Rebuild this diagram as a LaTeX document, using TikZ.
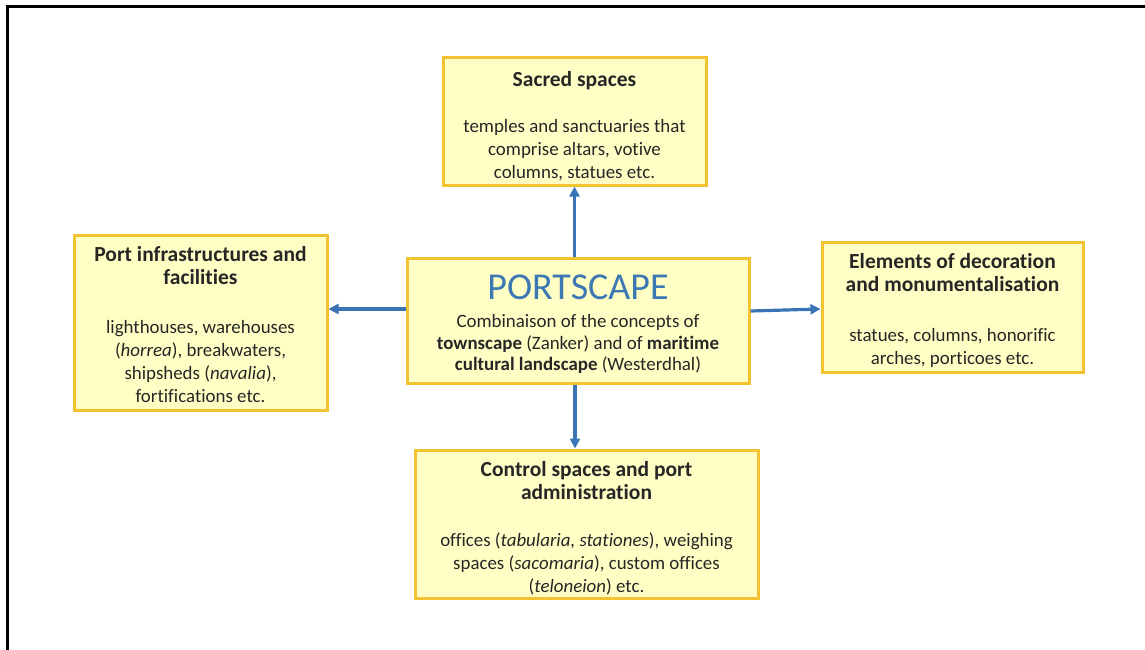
\documentclass[tikz,border=0pt]{standalone}
\usepackage{fontspec}
\setmainfont{Carlito}[Ligatures=NoCommon]
\usetikzlibrary{arrows.meta}
\definecolor{boxfill}{HTML}{FFFFC5}
\definecolor{boxline}{HTML}{F2C230}
\definecolor{arr}{HTML}{3A74B4}
\definecolor{ptitle}{HTML}{3C78B4}
\newcommand{\hd}[1]{{\fontsize{21.5}{25}\selectfont\bfseries #1}}
\tikzset{
  box/.style={draw=boxline, fill=boxfill, line width=3pt, inner sep=0pt},
  txt/.style={align=center, font=\fontsize{18.9}{23}\selectfont, text=black!85, inner sep=0pt},
  link/.style={draw=arr, line width=3.2pt, -{Triangle[length=10pt,width=10pt]}}
}
\begin{document}
\begin{tikzpicture}[x=1pt,y=-1pt]
\useasboundingbox (0,0) rectangle (1145,650);
\draw[line width=3pt] (7,650) coordinate (fl) -- (7,7) coordinate (fc) -- (1145,7) coordinate (fr);
% boxes
\node[box, minimum width=263pt, minimum height=127pt] (sac) at (574.5,121.5) {};
\node[box, minimum width=253pt, minimum height=175pt] (pin) at (200.5,322.5) {};
\node[box, minimum width=342pt, minimum height=125pt] (ps) at (578,320.5) {};
\node[box, minimum width=261pt, minimum height=130pt] (ele) at (952.5,307) {};
\node[box, minimum width=343pt, minimum height=148pt] (ctl) at (586.5,524) {};
% texts
\node[txt] (sact) at (574.5,126) {\hd{Sacred spaces}\\[23pt]temples and sanctuaries that\\comprise altars, votive\\columns, statues etc.};
\node[txt] (pint) at (200.5,325) {\hd{Port infrastructures and}\\\hd{facilities}\\[26pt]lighthouses, warehouses\\(\textit{horrea}), breakwaters,\\shipsheds (\textit{navalia}),\\fortifications etc.};
\node[txt, font=\fontsize{38}{40}\selectfont, text=ptitle] (pst) at (578,287) {PORTSCAPE};
\node[txt, font=\fontsize{18.9}{21.5}\selectfont] (psb) at (578,344) {Combinaison of the concepts of\\\textbf{townscape} (Zanker) and of \textbf{maritime}\\\textbf{cultural landscape} (Westerdhal)};
\node[txt] (elet) at (952.5,310) {\hd{Elements of decoration}\\\hd{and monumentalisation}\\[27pt]statues, columns, honorific\\arches, porticoes etc.};
\node[txt] (ctlt) at (586.5,528) {\hd{Control spaces and port}\\\hd{administration}\\[24pt]offices (\textit{tabularia, stationes}), weighing\\spaces (\textit{sacomaria}), custom offices\\(\textit{teloneion}) etc.};
% connectors
\draw[link] (ps.north -| sac.south) -- (sac.south);
\draw[link] (ps.west |- 0,309) -- (pin.east |- 0,309);
\draw[link] (ps.east |- 0,311) -- (ele.west |- 0,309);
\draw[link] (ps.south -| 575,0) -- (ctl.north -| 575,0);
\end{tikzpicture}
\end{document}
